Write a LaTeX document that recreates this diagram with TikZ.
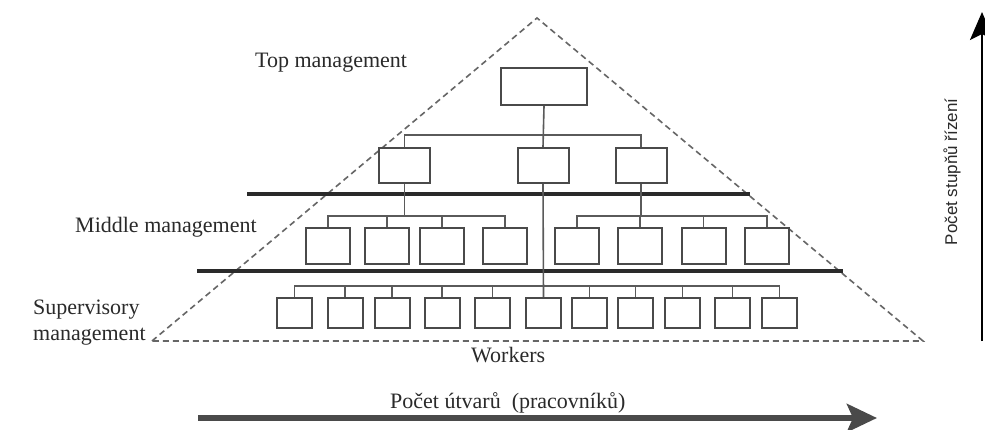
\documentclass[tikz,border=0pt]{standalone}
\usepackage{fontspec}
\setmainfont{Liberation Serif}
\newfontfamily\sansf{Liberation Sans}
\usetikzlibrary{arrows.meta}
\definecolor{ink}{HTML}{2A2A2A}
\definecolor{boxc}{HTML}{4A4A4A}
\definecolor{linec}{HTML}{5A5A5A}
\definecolor{dashc}{HTML}{666666}
\tikzset{
  unitbox/.style={draw=boxc, line width=2pt, inner sep=0pt, fill=white},
  topbox/.style={unitbox, minimum width=86pt, minimum height=37pt},
  lvtwo/.style={unitbox, minimum width=51pt, minimum height=35pt},
  lvthree/.style={unitbox, minimum width=44pt, minimum height=36pt},
  lvfour/.style={unitbox, minimum width=35pt, minimum height=30pt},
  conn/.style={draw=linec, line width=1.6pt},
  sepline/.style={draw=ink, line width=4.5pt},
  pyr/.style={draw=dashc, line width=1.6pt, dash pattern=on 6pt off 4pt},
  lbl/.style={text=ink, font=\fontsize{22}{25}\selectfont, inner sep=0pt},
}
\begin{document}
\begin{tikzpicture}[x=1pt,y=-1pt]
\useasboundingbox (0,0) rectangle (985,430);
\fill[white] (0,0) rectangle (985,430);

% pyramid
\coordinate (apex) at (537,18);
\coordinate (bl) at (152,341);
\coordinate (br) at (923,341);
\draw[pyr] (bl) -- (apex) -- (br) -- cycle;

% separator lines
\coordinate (s1a) at (247,194);
\coordinate (s1b) at (750,194);
\coordinate (s2a) at (197,271);
\coordinate (s2b) at (843,271);
\draw[sepline] (s1a) -- (s1b);
\draw[sepline] (s2a) -- (s2b);

% bus levels
\coordinate (busA) at (0,135);
\coordinate (busM) at (0,216);
\coordinate (busB) at (0,286);

% boxes
\node[topbox] (T) at (544,86.5) {};
\node[lvtwo] (L1) at (404.5,165.5) {};
\node[lvtwo] (L2) at (543,165.5) {};
\node[lvtwo] (L3) at (641,165.5) {};

\foreach \x [count=\i] in {328,387,442,505,577,640,703.5,767}
  \node[lvthree] (M\i) at (\x,246) {};

\foreach \x [count=\i] in {294.5,345,392,442,492.5,543.5,589.5,635.5,682.5,732.5,779.5}
  \node[lvfour] (W\i) at (\x,313) {};

% connectors
\draw[conn] (T.south) -- (L2.north);
\draw[conn] (L1.north) |- (L3.north |- busA) -- (L3.north);

\draw[conn] (L1.south) -- (L1.south |- busM);
\draw[conn] (M1.north) |- (M4.north |- busM) -- (M4.north);
\draw[conn] (M2.north) -- (M2.north |- busM);
\draw[conn] (M3.north) -- (M3.north |- busM);

\draw[conn] (L3.south) -- (L3.south |- busM);
\draw[conn] (M5.north) |- (M8.north |- busM) -- (M8.north);
\draw[conn] (M6.north) -- (M6.north |- busM);
\draw[conn] (M7.north) -- (M7.north |- busM);

\draw[conn] (L2.south) -- (W6.north);
\draw[conn] (W1.north) |- (W11.north |- busB) -- (W11.north);
\foreach \i in {2,3,4,5,7,8,9,10}
  \draw[conn] (W\i.north) -- (W\i.north |- busB);

% labels
\node[lbl, anchor=base west] (ltop) at (255,68) {Top management};
\node[lbl, anchor=base west] (lmid) at (75,233) {Middle management};
\node[lbl, anchor=base west, align=left] (lsup) at (33,340) {Supervisory\\management};
\node[lbl, anchor=base west] (lwork) at (471,362) {Workers};
\node[lbl, anchor=base west] (lcount) at (390,408) {Počet útvarů\ \ (pracovníků)};

% axes arrows
\coordinate (ha) at (198,418);
\coordinate (hb) at (877,418);
\draw[draw=boxc, line width=6pt, -{Stealth[length=30pt, width=28pt, inset=6pt]}] (ha) -- (hb);
\coordinate (va) at (982,341);
\coordinate (vb) at (982,12);
\draw[draw=black, line width=2.4pt, -{Stealth[length=28pt, width=24pt, inset=6pt]}] (va) -- (vb);
\node[text=ink, rotate=90, font=\sansf\fontsize{17}{20}\selectfont, inner sep=0pt] (lsteps) at (952,172) {Počet stupňů řízení};
\end{tikzpicture}
\end{document}
